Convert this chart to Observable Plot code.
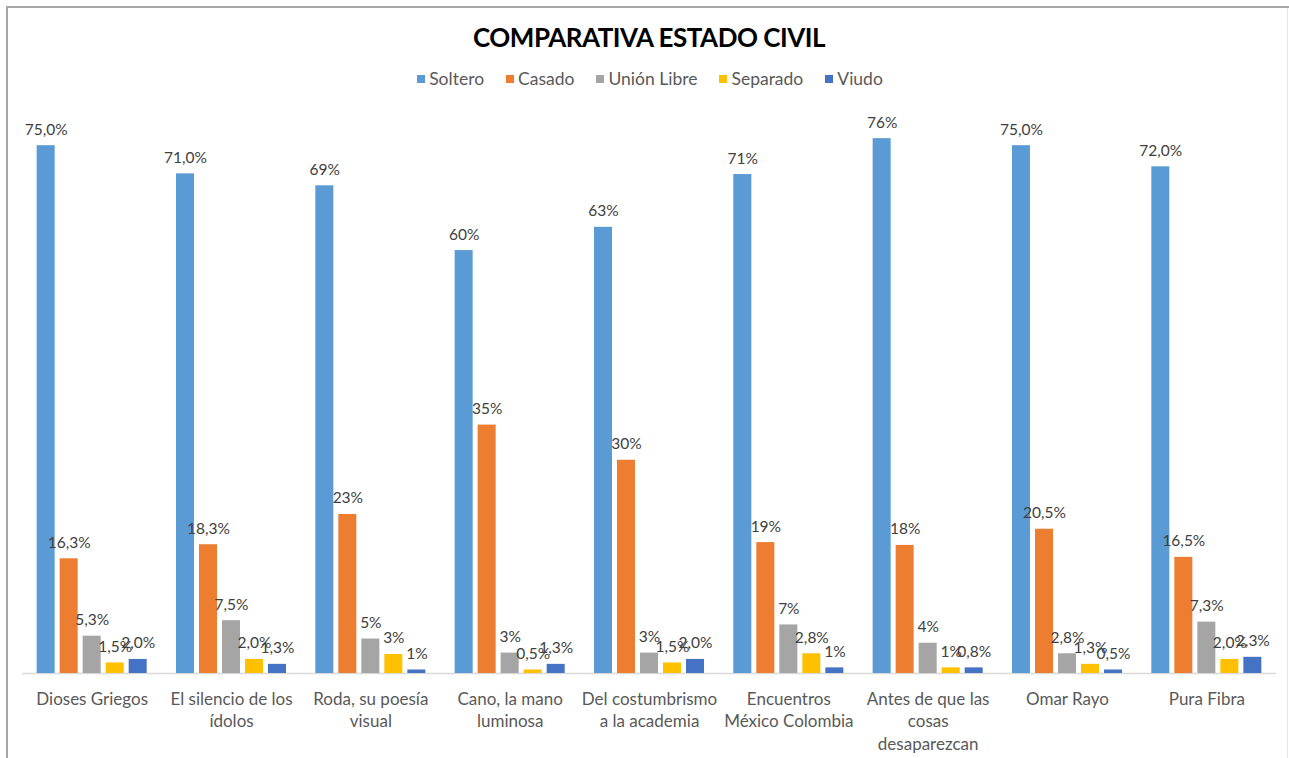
<!DOCTYPE html>
<html>
<head>
<meta charset="utf-8">
<script src="https://cdn.jsdelivr.net/npm/d3@7"></script>
<script src="https://cdn.jsdelivr.net/npm/@observablehq/plot@0.6"></script>
<style>
  html, body { margin: 0; padding: 0; background: #fff; }
  body { width: 1289px; height: 758px; overflow: hidden; position: relative; font-family: Lato, "Open Sans", sans-serif; }
  #frame { position: absolute; left: 6px; top: 6px; width: 1290px; height: 760px; border-top: 2px solid #a6a6a6; border-left: 2px solid #a6a6a6; box-sizing: border-box; pointer-events: none; }
  #frameR { position: absolute; left: 1287px; top: 8px; width: 1px; height: 750px; background: #e6e6e6; }
  #header { height: 95px; position: relative; }
  #title { position: absolute; left: 0; width: 1298px; top: 21px; text-align: center; font-size: 26px; font-weight: 700; color: #000; letter-spacing: -0.5px; }
  #legend { position: absolute; left: 0; width: 1300px; top: 68px; display: flex; justify-content: center; gap: 22px; font-size: 17.5px; color: #595959; }
  .item { display: flex; align-items: center; gap: 4px; }
  .sw { width: 8px; height: 8px; display: inline-block; }
  #chart svg { display: block; }
</style>
</head>
<body>
<div id="header">
  <div id="title">COMPARATIVA ESTADO CIVIL</div>
  <div id="legend"></div>
</div>
<div id="chart"></div>
<div id="frame"></div>
<div id="frameR"></div>
<script>
const categories = [
  "Dioses Griegos", "El silencio de los ídolos", "Roda, su poesía visual",
  "Cano, la mano luminosa", "Del costumbrismo a la academia", "Encuentros México Colombia",
  "Antes de que las cosas desaparezcan", "Omar Rayo", "Pura Fibra"
];
const tickLabels = [
  "Dioses Griegos", "El silencio de los\nídolos", "Roda, su poesía\nvisual",
  "Cano, la mano\nluminosa", "Del costumbrismo\na la academia", "Encuentros\nMéxico Colombia",
  "Antes de que las\ncosas\ndesaparezcan", "Omar Rayo", "Pura Fibra"
];
const series = ["Soltero", "Casado", "Unión Libre", "Separado", "Viudo"];
const colors = ["#5B9BD5", "#ED7D31", "#A5A5A5", "#FFC000", "#4472C4"];

const soltero   = [75.0, 71.0, 69.3, 60.1, 63.4, 70.9, 76.0, 75.0, 72.0];
const casado    = [16.3, 18.3, 22.6, 35.3, 30.3, 18.6, 18.2, 20.5, 16.5];
const unionLibre= [5.3, 7.5, 4.9, 2.9, 2.9, 6.9, 4.3, 2.8, 7.3];
const separado  = [1.5, 2.0, 2.7, 0.5, 1.5, 2.8, 0.8, 1.3, 2.0];
const viudo     = [2.0, 1.3, 0.5, 1.3, 2.0, 0.8, 0.8, 0.5, 2.3];

const solteroLbl   = ["75,0%", "71,0%", "69%", "60%", "63%", "71%", "76%", "75,0%", "72,0%"];
const casadoLbl    = ["16,3%", "18,3%", "23%", "35%", "30%", "19%", "18%", "20,5%", "16,5%"];
const unionLbl     = ["5,3%", "7,5%", "5%", "3%", "3%", "7%", "4%", "2,8%", "7,3%"];
const separadoLbl  = ["1,5%", "2,0%", "3%", "0,5%", "1,5%", "2,8%", "1%", "1,3%", "2,0%"];
const viudoLbl     = ["2,0%", "1,3%", "1%", "1,3%", "2,0%", "1%", "0,8%", "0,5%", "2,3%"];

const values = [soltero, casado, unionLibre, separado, viudo];
const labels = [solteroLbl, casadoLbl, unionLbl, separadoLbl, viudoLbl];

const data = [];
categories.forEach((c, i) => {
  series.forEach((s, j) => {
    data.push({category: c, series: s, value: values[j][i], label: labels[j][i]});
  });
});

// legend
const legend = document.getElementById("legend");
series.forEach((s, j) => {
  const it = document.createElement("span");
  it.className = "item";
  const sw = document.createElement("span");
  sw.className = "sw";
  sw.style.background = colors[j];
  it.appendChild(sw);
  it.appendChild(document.createTextNode(s));
  legend.appendChild(it);
});

const tickMap = new Map(categories.map((c, i) => [c, tickLabels[i]]));

const chart = Plot.plot({
  width: 1289,
  height: 663,
  marginTop: 15,
  marginBottom: 85,
  marginLeft: 22,
  marginRight: 13,
  style: {fontFamily: "Lato, 'Open Sans', sans-serif", background: "#fff"},
  fx: {domain: categories, padding: 0, round: false, label: null},
  x: {domain: series, paddingInner: 0.217, paddingOuter: 0.637, round: false, axis: null},
  y: {domain: [0, 80], axis: null},
  color: {domain: series, range: colors},
  marks: [
    Plot.ruleY([0], {stroke: "#d9d9d9", strokeWidth: 1.5}),
    Plot.barY(data, {fx: "category", x: "series", y: "value", fill: "series"}),
    Plot.text(data, {fx: "category", x: "series", y: "value", text: "label", dy: -16, fontSize: 15.5, fill: "#404040"}),
    Plot.axisFx({anchor: "bottom", tickSize: 0, tickPadding: 15, fontSize: 17, lineHeight: 1.33, fill: "#595959", tickFormat: d => tickMap.get(d), label: null})
  ]
});
document.getElementById("chart").appendChild(chart);
</script>
</body>
</html>
